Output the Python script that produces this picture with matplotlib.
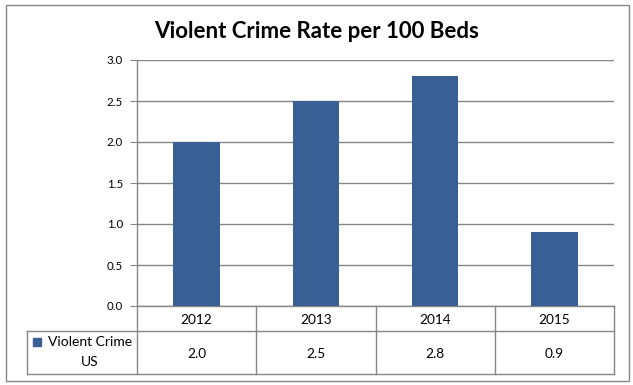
import matplotlib
matplotlib.use("Agg")
import matplotlib.pyplot as plt
from matplotlib.patches import Rectangle
from matplotlib.lines import Line2D

title = "Violent Crime Rate per 100 Beds"
years = ["2012", "2013", "2014", "2015"]
series_name = "Violent Crime\nUS"
values = [2.0, 2.5, 2.8, 0.9]
yticks = [0.0, 0.5, 1.0, 1.5, 2.0, 2.5, 3.0]

W, H = 633, 385
bar_color = "#386094"
line_color = "#868686"
font = ["Lato", "DejaVu Sans"]

fig = plt.figure(figsize=(W / 100, H / 100), dpi=100)
fig.patch.set_facecolor("white")

# overlay in pixel coordinates
ov = fig.add_axes([0, 0, 1, 1])
ov.set_xlim(0, W)
ov.set_ylim(H, 0)
ov.axis("off")

# plot area in pixels
L, R, T, B = 137, 614, 60, 306
ax = fig.add_axes([L / W, (H - B) / H, (R - L) / W, (B - T) / H])
ax.set_facecolor("none")
x = list(range(len(years)))
ax.bar(x, values, width=0.39, color=bar_color, zorder=3)
ax.set_xlim(-0.5, len(years) - 0.5)
ax.set_ylim(0, 3.0)
ax.set_yticks(yticks)
ax.set_yticklabels([f"{v:.1f}" for v in yticks], fontsize=8.3, family=font)
ax.set_xticks([])
ax.yaxis.grid(True, color=line_color, linewidth=1)
ax.set_axisbelow(True)
for s in ["top", "right"]:
    ax.spines[s].set_visible(False)
for s in ["left", "bottom"]:
    ax.spines[s].set_color(line_color)
    ax.spines[s].set_linewidth(1)
ax.tick_params(axis="y", direction="out", length=5, color=line_color, pad=5)

# outer border
ov.add_patch(Rectangle((5.5, 4.5), 623, 376, fill=False, edgecolor=line_color, linewidth=1))

# title
ov.text(317, 32, title, ha="center", va="center", fontsize=16, fontweight="bold", family=font)

# data table
hdr_bot, row_bot, leg_left = 331, 374, 27
colw = (R - L) / len(years)
ov.add_line(Line2D([L, R], [hdr_bot, hdr_bot], color=line_color, lw=1))
ov.add_line(Line2D([leg_left, L], [hdr_bot, hdr_bot], color=line_color, lw=1))
ov.add_line(Line2D([leg_left, R], [row_bot, row_bot], color=line_color, lw=1))
ov.add_line(Line2D([leg_left, leg_left], [hdr_bot, row_bot], color=line_color, lw=1))
for i in range(len(years) + 1):
    xx = L + i * colw
    ov.add_line(Line2D([xx, xx], [B, row_bot], color=line_color, lw=1))
for i, (yr, v) in enumerate(zip(years, values)):
    cx = L + (i + 0.5) * colw
    ov.text(cx, (B + hdr_bot) / 2 + 1, yr, ha="center", va="center", fontsize=9.8, family=font)
    ov.text(cx, (hdr_bot + row_bot) / 2 + 1, f"{v:.1f}", ha="center", va="center", fontsize=9.8, family=font)

# legend cell
name1, name2 = series_name.split("\n")
ov.add_patch(Rectangle((33, 338), 8, 8, color=bar_color))
ov.text(90, 342, name1, ha="center", va="center", fontsize=10, family=font)
ov.text(90, 362, name2, ha="center", va="center", fontsize=10, family=font)

fig.savefig("out.png", dpi=100, facecolor="white")
